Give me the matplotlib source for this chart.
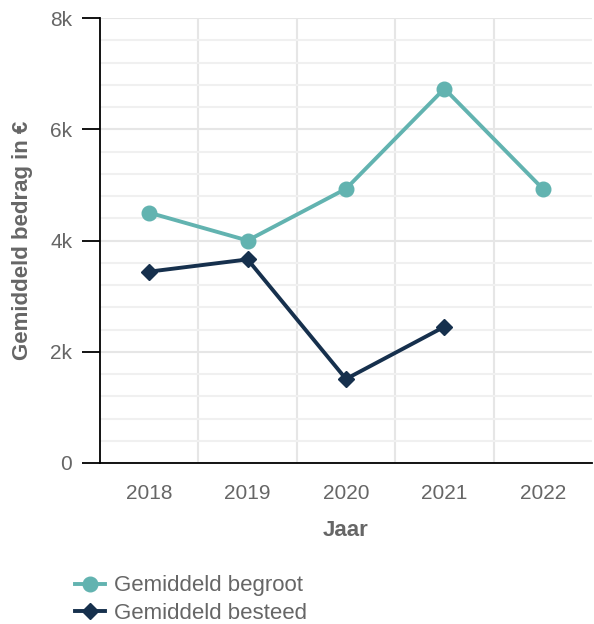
import matplotlib.pyplot as plt
from matplotlib.ticker import MultipleLocator, FuncFormatter

years = ['2018', '2019', '2020', '2021', '2022']
begroot = [4500, 4000, 4930, 6730, 4930]
besteed_years = ['2018', '2019', '2020', '2021']
besteed = [3440, 3660, 1510, 2450]

teal = '#62b3b0'
navy = '#16304d'
grey = '#666666'

plt.rcParams['font.family'] = ['Liberation Sans', 'DejaVu Sans']

fig = plt.figure(figsize=(5.94, 6.24), dpi=100)
ax = fig.add_axes([100 / 594, 1 - 463 / 624, 492 / 594, 445 / 624])

x_begroot = [years.index(y) for y in years]
x_besteed = [years.index(y) for y in besteed_years]

ax.plot(x_begroot, begroot, color=teal, linewidth=2.8, marker='o', markersize=10.5,
        label='Gemiddeld begroot', zorder=3)
ax.plot(x_besteed, besteed, color=navy, linewidth=2.8, marker='D', markersize=8,
        label='Gemiddeld besteed', zorder=3)

ax.set_xlim(-0.5, len(years) - 0.5)
ax.set_ylim(0, 8000)
ax.set_xticks(range(len(years)))
ax.set_xticklabels(years)
ax.set_xticks([i + 0.5 for i in range(len(years) - 1)], minor=True)
ax.yaxis.set_major_locator(MultipleLocator(2000))
ax.yaxis.set_minor_locator(MultipleLocator(400))
ax.yaxis.set_major_formatter(FuncFormatter(lambda v, p: '0' if v == 0 else f'{int(v / 1000)}k'))

ax.grid(True, which='major', axis='y', color='#e6e6e6', linewidth=1.5)
ax.grid(True, which='minor', axis='y', color='#f0f0f0', linewidth=1.5)
ax.grid(True, which='minor', axis='x', color='#e6e6e6', linewidth=1.5)
ax.set_axisbelow(True)

for side in ['top', 'right']:
    ax.spines[side].set_visible(False)
ax.spines['left'].set_color('black')
ax.spines['bottom'].set_color('black')
ax.spines['left'].set_linewidth(1.3)
ax.spines['bottom'].set_linewidth(1.3)

ax.tick_params(axis='y', which='major', length=13, width=1.3, color='black',
               labelcolor=grey, labelsize=15, pad=7)
ax.tick_params(axis='y', which='minor', length=0)
ax.tick_params(axis='x', which='both', length=0, labelcolor=grey, labelsize=15, pad=15)

ax.set_xlabel('Jaar', fontsize=16, fontweight='bold', color=grey, labelpad=12)
ax.set_ylabel('Gemiddeld bedrag in €', fontsize=16, fontweight='bold', color=grey, labelpad=12)

handles, labels = ax.get_legend_handles_labels()
fig.legend(handles, labels, loc='upper left', bbox_to_anchor=(0.111, 0.092),
           frameon=False, fontsize=16, labelcolor=grey, handlelength=1.35,
           handletextpad=0.4, labelspacing=0.3, borderaxespad=0)

fig.savefig('out.png', dpi=100)
